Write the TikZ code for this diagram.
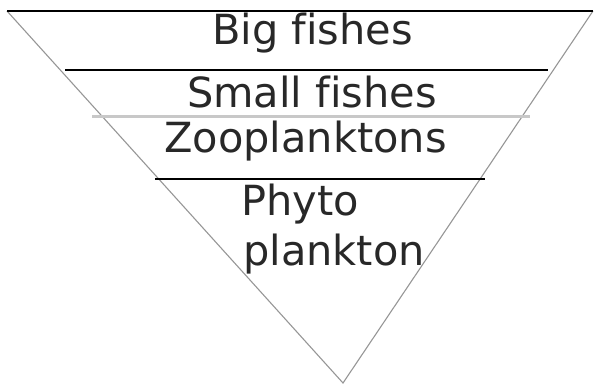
\documentclass[tikz,border=0pt]{standalone}
\usepackage{fontspec}
\setmainfont[Ligatures=CommonOff]{DejaVu Sans}
\usetikzlibrary{%
	calc,%
	positioning,%
}
\definecolor{cedge}{RGB}{150, 150, 150}
\definecolor{csep}{RGB}{200, 200, 200}
\definecolor{ctext}{RGB}{40, 40, 40}
\tikzset{
	nodes={align=left},%
	edge/.style={%
			draw=cedge,%
			line width=1.1pt},%
	level/.style={%
			draw=black,%
			line width=2.2pt},%
	softlevel/.style={%
			draw=csep,%
			line width=3pt},%
	levelname/.style={%
			text=ctext,%
			inner sep=0pt,%
			anchor=base west,%
			font={\fontsize{41.5}{50}\selectfont}},%
}

\begin{document}
\begin{tikzpicture}[x=1pt, y=-1pt]%
	\useasboundingbox (0,0) rectangle (596,387);
	\coordinate (tl) at (7,11);
	\coordinate (tr) at (593,11);
	\coordinate (apex) at (343,383);

	\coordinate (l1a) at (65,70);
	\coordinate (l1b) at (548,70);
	\coordinate (l2a) at (92,117);
	\coordinate (l2b) at (530,117);
	\coordinate (l3a) at (155,179);
	\coordinate (l3b) at (485,179);

	\node[levelname] (big) at (212,45) {Big fishes};
	\node[levelname] (small) at (187,108) {Small fishes};
	\node[levelname] (zoo) at (164,153) {Zooplanktons};
	\node[levelname] (phyto) at (241,215) {Phyto};
	\node[levelname] (plank) at (243,265) {plankton};

	\draw[edge] (tl) -- (apex) -- (tr);
	\draw[level] (tl) -- (tr);
	\draw[level] (l1a) -- (l1b);
	\draw[softlevel] (l2a) -- (l2b);
	\draw[level] (l3a) -- (l3b);
\end{tikzpicture}
\end{document}
